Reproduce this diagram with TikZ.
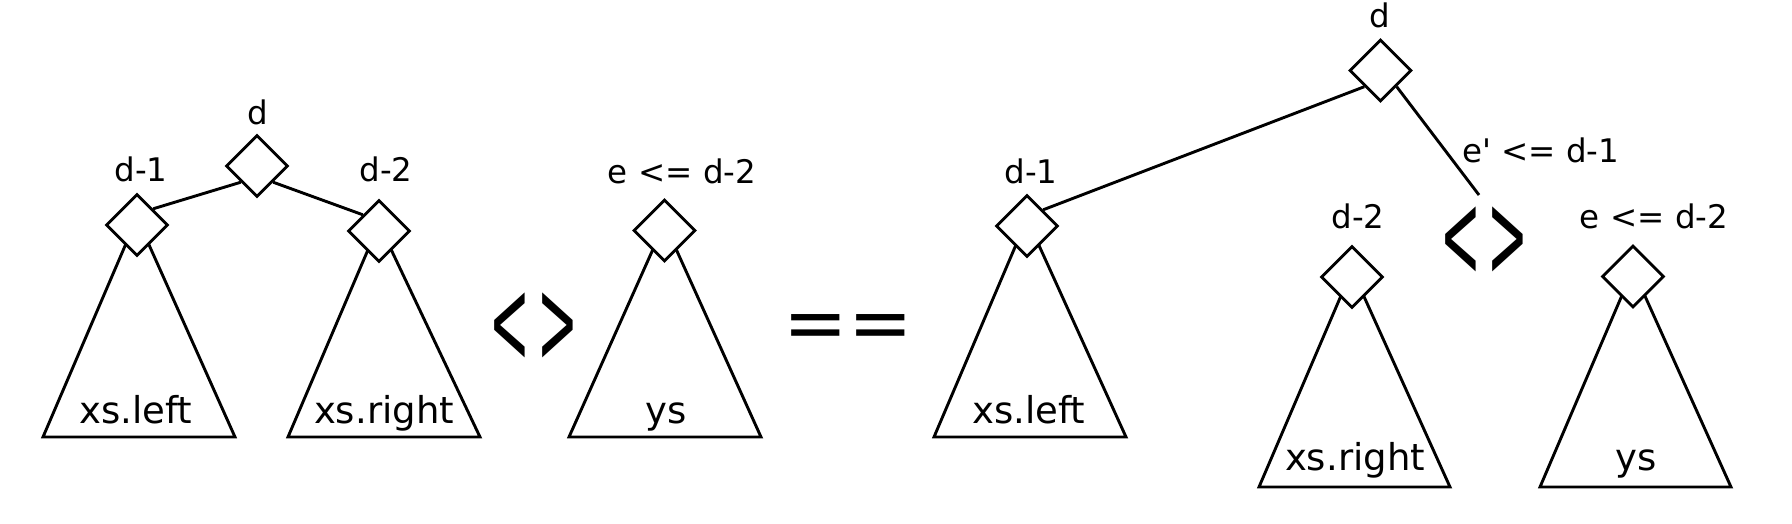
\documentclass[tikz,border=0pt]{standalone}
\usepackage{fontspec}
\setmainfont{DejaVu Sans}
\usetikzlibrary{backgrounds,calc,shapes.geometric}
\begin{document}
\begin{tikzpicture}[x=1pt,y=-1pt,
  dia/.style={diamond, aspect=1, draw, fill=white, minimum size=62pt, inner sep=0pt, line width=2.9pt},
  tri/.style={line width=2.9pt, line join=miter},
  conn/.style={line width=2.9pt},
  lab/.style={anchor=base, font=\fontsize{32.5}{38}\selectfont, inner sep=0pt},
  big/.style={anchor=base, font=\fontsize{37}{44}\selectfont, inner sep=0pt},
  op/.style={inner sep=0pt, font=\fontsize{64}{64}\selectfont},
]
\useasboundingbox (0,0) rectangle (1792,524);
% left tree
\node[dia] (Lroot) at (257,166) {};
\node[dia] (Ld1) at (137,225) {};
\node[dia] (Ld2) at (379,231) {};
\node[dia] (Lys) at (664.5,230.5) {};
\node[lab] (tLroot) at (258,125) {d};
\node[lab] (tLd1) at (141,182) {d-1};
\node[lab] (tLd2) at (386,182) {d-2};
\node[lab] (tLys) at (682,183) {e <= d-2};
\node[big] (sLd1) at (136,423) {xs.left};
\node[big] (sLd2) at (384,423) {xs.right};
\node[big] (sLys) at (666,423) {ys};
\draw[conn] (Lroot.south west) -- (Ld1.north east);
\draw[conn] (Lroot.south east) -- (Ld2.north west);
\node[op] (neqL) at (534,328) {\scalebox{0.76}[1.9]{<\kern9pt>}};
\node[anchor=base, inner sep=0pt, font=\fontsize{77}{77}\selectfont] (eq) at (848,349) {==};
% right tree
\node[dia] (Rroot) at (1380.5,70.5) {};
\node[dia] (Rd1) at (1027,226) {};
\node[dia] (Rd2) at (1352,277) {};
\node[dia] (Rys) at (1633,276.5) {};
\node[lab] (tRroot) at (1380,28) {d};
\node[lab] (tRd1) at (1031,183) {d-1};
\node[lab, anchor=base west] (tRe) at (1462,163) {e\textquotesingle{} <= d-1};
\node[lab] (tRd2) at (1358,228) {d-2};
\node[lab] (tRys) at (1654,229) {e <= d-2};
\node[big] (sRd1) at (1029,423) {xs.left};
\node[big] (sRd2) at (1355,470) {xs.right};
\node[big] (sRys) at (1636,470) {ys};
\coordinate (Rend) at (1479,195);
\draw[conn] (Rroot.south west) -- (Rd1.north east);
\draw[conn] (Rroot.south east) -- (Rend);
\node[op] (neqR) at (1484.5,242) {\scalebox{0.76}[1.9]{<\kern9pt>}};
\begin{pgfonlayer}{background}
\draw[tri] ($(Ld1.center)+(0,-7)$) -- (43,437) -- (235,437) -- cycle;
\draw[tri] ($(Ld2.center)+(0,-7)$) -- (288,437) -- (480,437) -- cycle;
\draw[tri] ($(Lys.center)+(0,-7)$) -- (569,437) -- (761,437) -- cycle;
\draw[tri] ($(Rd1.center)+(0,-7)$) -- (934,437) -- (1126,437) -- cycle;
\draw[tri] ($(Rd2.center)+(0,-7)$) -- (1259,487) -- (1450,487) -- cycle;
\draw[tri] ($(Rys.center)+(0,-7)$) -- (1540,487) -- (1731,487) -- cycle;
\end{pgfonlayer}
\end{tikzpicture}
\end{document}
